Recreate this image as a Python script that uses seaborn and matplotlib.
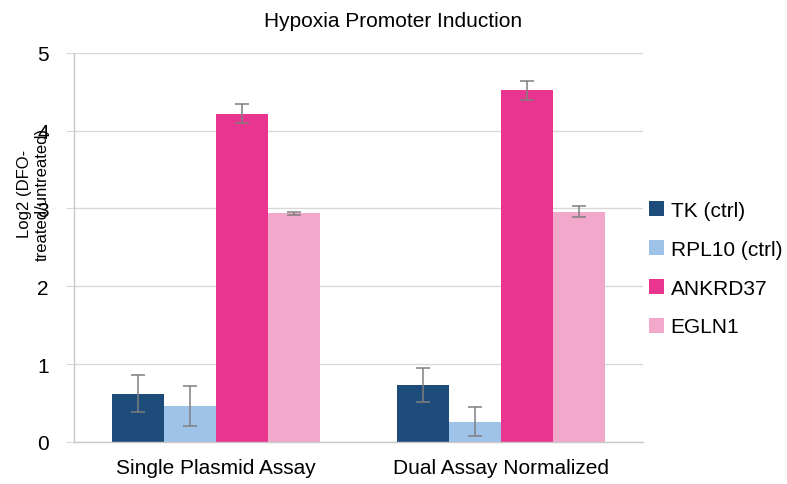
import pandas as pd
import matplotlib
matplotlib.use("Agg")
import matplotlib.pyplot as plt
import seaborn as sns

# =========================
# Data
# =========================
assays = ["Single Plasmid Assay", "Dual Assay Normalized"]
genes = ["TK (ctrl)", "RPL10 (ctrl)", "ANKRD37", "EGLN1"]
colors = ["#1d4b7a", "#9fc3e8", "#ea3590", "#f2a8cb"]

tk_vals = [0.62, 0.73]
rpl10_vals = [0.46, 0.26]
ankrd37_vals = [4.22, 4.52]
egln1_vals = [2.94, 2.96]

tk_err = [0.24, 0.22]
rpl10_err = [0.26, 0.19]
ankrd37_err = [0.12, 0.12]
egln1_err = [0.02, 0.07]

values = [tk_vals, rpl10_vals, ankrd37_vals, egln1_vals]
errors = [tk_err, rpl10_err, ankrd37_err, egln1_err]

rows = []
for g, vals in zip(genes, values):
    for a, v in zip(assays, vals):
        rows.append({"Assay": a, "Gene": g, "Value": v})
df = pd.DataFrame(rows)

# =========================
# Plot
# =========================
sns.set_style("white")
plt.rcParams["font.family"] = ["Liberation Sans", "DejaVu Sans"]
plt.rcParams["text.color"] = "black"
plt.rcParams["xtick.color"] = "black"
plt.rcParams["ytick.color"] = "black"

fig = plt.figure(figsize=(7.87, 4.85), dpi=100)
ax = fig.add_axes([0.094, 0.087, 0.723, 0.802])

sns.barplot(data=df, x="Assay", y="Value", hue="Gene", order=assays,
            hue_order=genes, palette=colors, width=0.73, saturation=1,
            errorbar=None, ax=ax, linewidth=0, zorder=2)

# error bars on top of each bar
for cont, errs in zip(ax.containers, errors):
    xs = [p.get_x() + p.get_width() / 2 for p in cont.patches]
    hs = [p.get_height() for p in cont.patches]
    ax.errorbar(xs, hs, yerr=errs, fmt="none", ecolor="#7f7f7f",
                elinewidth=1.1, capsize=5, capthick=1.1, zorder=3)

ax.set_ylim(0, 5)
ax.set_xlim(-0.5, 1.5)
ax.set_yticks(range(6))
ax.yaxis.grid(True, color="#d9d9d9", linewidth=1, zorder=0)
ax.set_axisbelow(True)

for side in ["top", "right"]:
    ax.spines[side].set_visible(False)
for side in ["left", "bottom"]:
    ax.spines[side].set_color("#c8c8c8")
    ax.spines[side].set_linewidth(1)

ax.set_xticks([0, 1])
ax.set_xticklabels(assays, fontsize=15)
ax.set_xticks([-0.5, 0.5, 1.5], minor=True)
ax.tick_params(axis="x", which="major", length=0, pad=12)
ax.tick_params(axis="x", which="minor", length=5, color="#c8c8c8", direction="out")
ax.tick_params(axis="y", length=6, color="#d9d9d9", labelsize=15, pad=12, left=True)
ax.set_xlabel("")
ax.set_ylabel("")

fig.text(0.042, 0.60, "Log2 (DFO-\ntreated/untreated)", rotation=90,
         ha="center", va="center", fontsize=12, multialignment="center")
fig.suptitle("Hypoxia Promoter Induction", x=0.5, y=0.975, fontsize=15)

ax.legend(loc="center left", bbox_to_anchor=(1.01, 0.445), frameon=False,
          fontsize=15, handlelength=0.75, handleheight=0.75,
          handletextpad=0.3, labelspacing=0.95, borderaxespad=0, borderpad=0)

fig.savefig("out.png", dpi=100)
